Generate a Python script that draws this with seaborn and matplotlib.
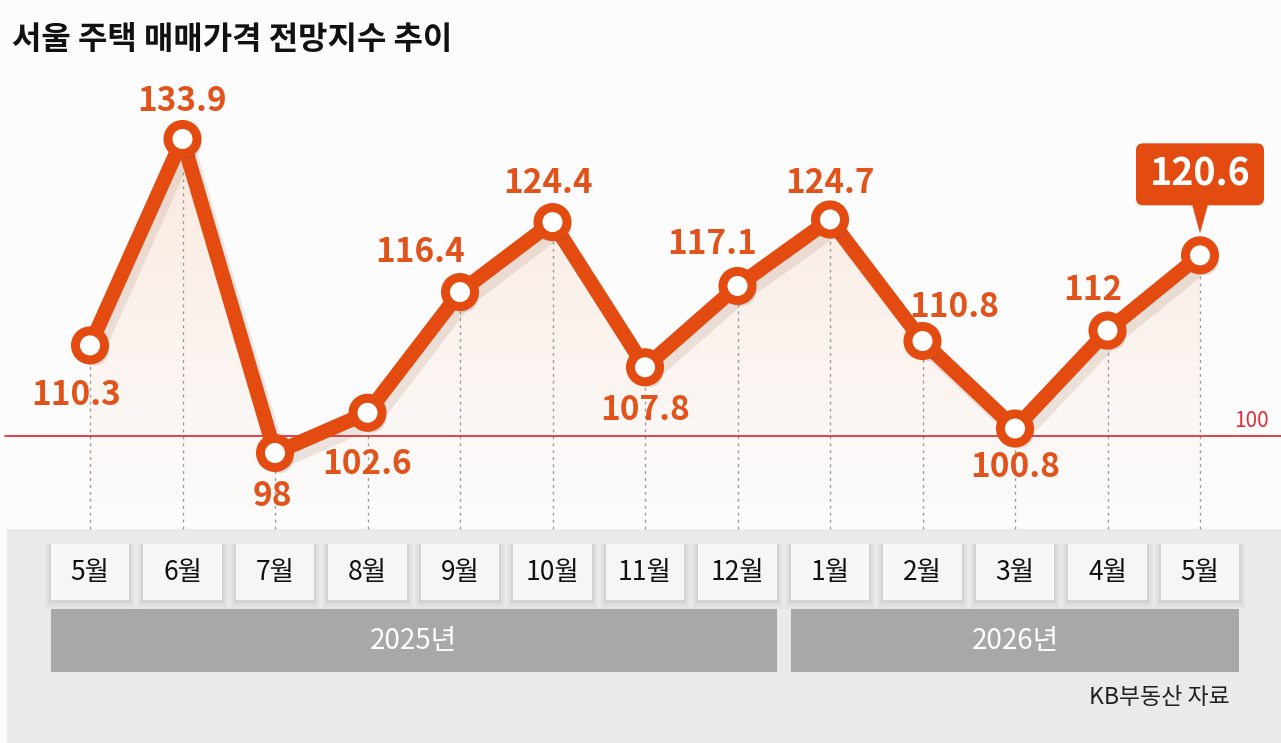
import matplotlib
matplotlib.use("Agg")
import numpy as np
import pandas as pd
import matplotlib.pyplot as plt
import matplotlib.patheffects as pe
import matplotlib.transforms as mtrans
from matplotlib.patches import Rectangle, FancyBboxPatch, Polygon
import seaborn as sns

# 데이터 (KB부동산 서울 주택 매매가격 전망지수)
months = ["5월", "6월", "7월", "8월", "9월", "10월", "11월", "12월",
          "1월", "2월", "3월", "4월", "5월"]
years = ["2025년"] * 8 + ["2026년"] * 5
values = [110.3, 133.9, 98, 102.6, 116.4, 124.4, 107.8, 117.1,
          124.7, 110.8, 100.8, 112, 120.6]
baseline = 100

# 라벨 위치 (점 기준 픽셀 오프셋)
label_dx = [-14, 0, -3, 0, -40, -5, 0, -25, 0, 32, 0, -15]
label_dy = [-50, 37, -44, -52, 40, 39, -43, 41, 36, 34, -39, 40]

ORANGE = "#e44b10"
LABEL = "#e2531c"
RED = "#e3303c"

df = pd.DataFrame({"idx": range(len(values)), "month": months,
                   "year": years, "value": values})

W, H = 1281, 743
sns.set_theme(style="white")
plt.rcParams["font.family"] = ["Noto Sans CJK KR", "DejaVu Sans"]

fig = plt.figure(figsize=(W / 100, H / 100), dpi=100)
fig.patch.set_facecolor("#fcfcfc")
ax = fig.add_axes([0, 0, 1, 1])
ax.axis("off")

# 픽셀 기준점: 첫 점 x=90, 간격 92.5 / 98 -> y 453, 133.9 -> y 139
x0, dx = 90, 92.5
ky = (453 - 139) / (133.9 - 98)
ax.set_xlim(-x0 / dx, (W - x0) / dx)
ax.set_ylim(98 - (H - 453) / ky, 98 + 453 / ky)


def fy(p):
    """픽셀 행 -> axes 비율"""
    return 1 - p / H


blend = mtrans.blended_transform_factory(ax.transData, ax.transAxes)
y0, y1 = ax.get_ylim()
panel_top = y0 + fy(529) * (y1 - y0)

# 하단 회색 패널
ax.add_patch(Rectangle((7 / W, 0), 1, fy(529), transform=ax.transAxes,
                       fc="#eaeaea", ec="none", zorder=0))

# 그라데이션 영역
grad = np.zeros((256, 1, 4))
grad[..., 0], grad[..., 1], grad[..., 2] = 0.95, 0.62, 0.42
grad[..., 3] = np.linspace(0.20, 0.0, 256)[:, None]
im = ax.imshow(grad, extent=[0, 12, panel_top, max(values)], aspect="auto",
               origin="upper", zorder=0.5)
clip = Polygon([(0, panel_top)] + list(zip(df["idx"], df["value"])) + [(12, panel_top)],
               closed=True, transform=ax.transData, fc="none", ec="none")
ax.add_patch(clip)
im.set_clip_path(clip)

# 점선 가이드
ax.vlines(df["idx"], panel_top, df["value"], colors="#9a9a9a",
          linestyles=(0, (2, 3)), lw=1, zorder=1)

# 기준선 100
ax.axhline(baseline, xmin=5 / W, color=RED, lw=1.3, zorder=1)
ax.annotate("100", xy=(1, baseline), xycoords=("axes fraction", "data"),
            xytext=(-12, 4), textcoords="offset pixels", ha="right", va="bottom",
            fontsize=15, color=RED, fontweight="light")

# 선 + 마커
shadow = [pe.SimpleLineShadow(offset=(4, -6), shadow_color="#7a4a30", alpha=0.12),
          pe.Normal()]
sns.lineplot(data=df, x="idx", y="value", color=ORANGE, lw=10.5, ax=ax,
             solid_capstyle="round", solid_joinstyle="round", zorder=3,
             path_effects=shadow)
sns.scatterplot(data=df, x="idx", y="value", s=437, color="white",
                edgecolor=ORANGE, linewidth=6.5, ax=ax, zorder=4, legend=False)
ax.collections[-1].set_path_effects([pe.SimplePatchShadow(offset=(3, -4), alpha=0.15),
                                     pe.Normal()])
ax.set_xlim(-x0 / dx, (W - x0) / dx)
ax.set_ylim(y0, y1)

# 값 라벨
for i, v in enumerate(values[:-1]):
    ax.annotate(f"{v:g}", (i, v), xytext=(label_dx[i], label_dy[i]),
                textcoords="offset pixels", ha="center", va="center",
                fontsize=24, fontweight="bold", color=LABEL, zorder=5)

# 마지막 값 말풍선
px, pyy = ax.transData.transform((df["idx"].iloc[-1], values[-1]))
ident = mtrans.IdentityTransform()
bw, bh = 128, 62
bcy = pyy + 81
ax.add_patch(FancyBboxPatch((px - bw / 2, bcy - bh / 2), bw, bh,
                            boxstyle="round,pad=0,rounding_size=7",
                            transform=ident, fc=ORANGE, ec="none", zorder=5))
ax.add_patch(Polygon([(px - 8, bcy - bh / 2 + 1), (px + 8, bcy - bh / 2 + 1),
                      (px, pyy + 22)], closed=True, transform=ident,
                     fc=ORANGE, ec="none", zorder=5))
ax.text(px, bcy, f"{values[-1]:g}", transform=ident, ha="center", va="center",
        fontsize=27, fontweight="bold", color="white", zorder=6)

# 월 박스
bx = 0.427
for i, m in enumerate(months):
    for k, a in enumerate([0.04, 0.03, 0.02]):
        g = (k + 1) * 0.02
        ax.add_patch(Rectangle((i - bx - g, fy(600 + 3 * (k + 1))), 2 * bx + 2 * g,
                               (600 - 544 + 3 * (k + 1)) / H, transform=blend,
                               fc="#000000", alpha=a, ec="none", zorder=1))
    ax.add_patch(Rectangle((i - bx, fy(600)), 2 * bx, (600 - 544) / H,
                           transform=blend, fc="#f6f6f6", ec="none", zorder=2))
    ax.text(i, fy(572), m, transform=blend, ha="center", va="center",
            fontsize=19, color="#111111", zorder=3)

# 연도 바
for yr, grp in df.groupby("year"):
    lo, hi = grp["idx"].min() - bx, grp["idx"].max() + bx
    ax.add_patch(Rectangle((lo, fy(672)), hi - lo, (672 - 609) / H,
                           transform=blend, fc="#a8a8a8", ec="none", zorder=2))
    ax.text((lo + hi) / 2, fy(641), yr, transform=blend, ha="center", va="center",
            fontsize=20, fontweight="medium", color="white", zorder=3)

# 제목 / 출처
fig.text(12 / W, fy(40), "서울 주택 매매가격 전망지수 추이", ha="left", va="center",
         fontsize=23, fontweight="bold", color="#111111")
ax.text(1230 / W, fy(698), "KB부동산 자료", transform=ax.transAxes, ha="right",
        va="center", fontsize=16.5, color="#222222")

fig.savefig("out.png", dpi=100, facecolor=fig.get_facecolor())
